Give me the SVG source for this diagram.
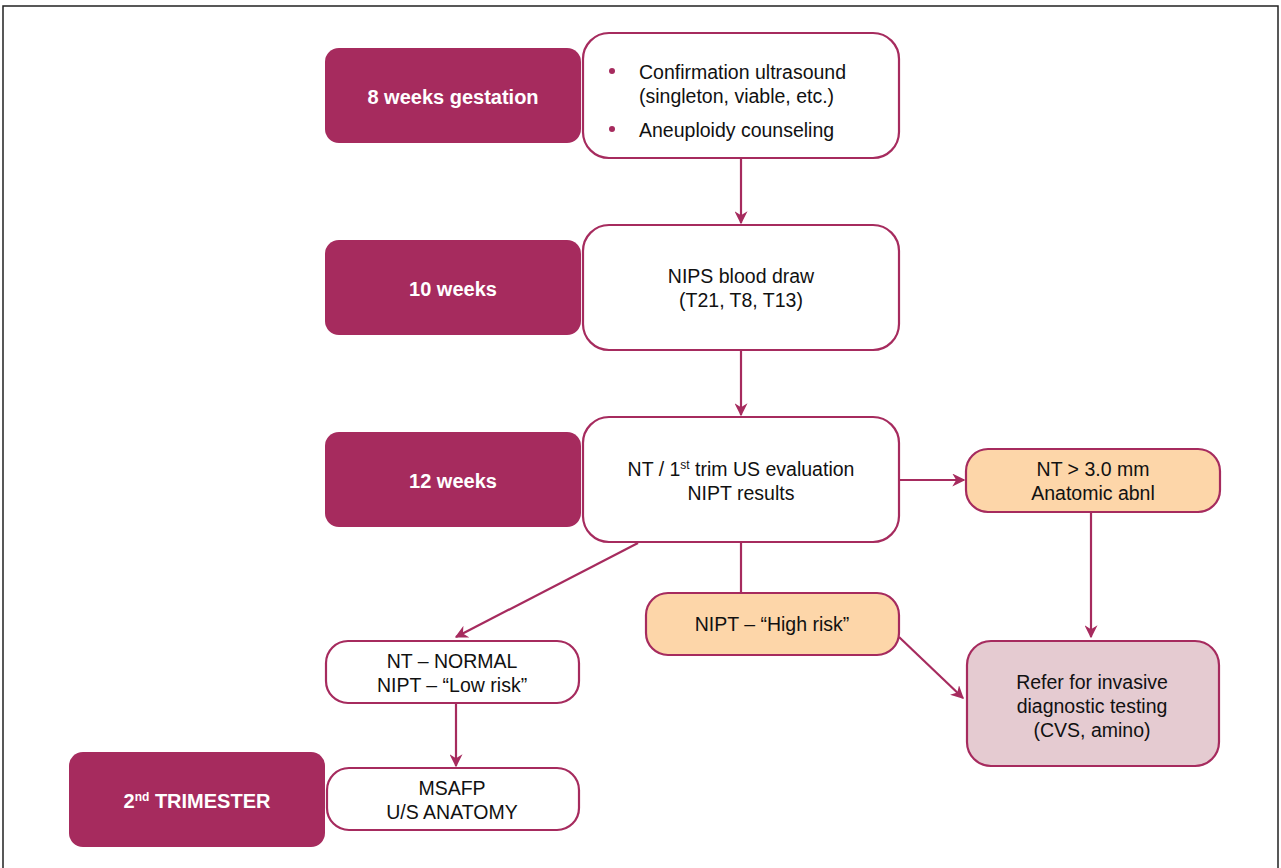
<svg xmlns="http://www.w3.org/2000/svg" width="1281" height="868" viewBox="0 0 1281 868">
<defs>
<style>
.dark{fill:#a62b5e;}
.wb{fill:#fff;stroke:#a62b5e;stroke-width:2.2;}
.ob{fill:#fdd6a9;stroke:#a62b5e;stroke-width:2.2;}
.pb{fill:#e5cbd1;stroke:#a62b5e;stroke-width:2.2;}
.lt{font-family:"Liberation Sans",Arial,sans-serif;font-weight:bold;font-size:20px;fill:#fff;text-anchor:middle;}
.t{font-family:"Liberation Sans",Arial,sans-serif;font-size:19.5px;fill:#111;text-anchor:middle;}
.tl{font-family:"Liberation Sans",Arial,sans-serif;font-size:19.5px;fill:#111;}
.c{stroke:#a62b5e;stroke-width:2.2;fill:none;}
</style>
<marker id="ah" viewBox="0 0 10 10" refX="9" refY="5" markerWidth="13" markerHeight="13" markerUnits="userSpaceOnUse" orient="auto"><path d="M0,0 L10,5 L0,10 L3,5 Z" fill="#a62b5e"/></marker>
</defs>
<rect width="1281" height="868" fill="#fff"/>
<path d="M3,868 V6 H1278 V868" fill="none" stroke="#222" stroke-width="1.5"/>

<g id="connectors">
<line class="c" x1="741" y1="158" x2="741" y2="223" marker-end="url(#ah)"/>
<line class="c" x1="741" y1="350" x2="741" y2="415" marker-end="url(#ah)"/>
<line class="c" x1="900" y1="480" x2="964" y2="480" marker-end="url(#ah)"/>
<line class="c" x1="1091" y1="512" x2="1091" y2="637" marker-end="url(#ah)"/>
<line class="c" x1="741" y1="542" x2="741" y2="593"/>
<line class="c" x1="899" y1="637" x2="963" y2="698" marker-end="url(#ah)"/>
<line class="c" x1="638" y1="543" x2="456" y2="637" marker-end="url(#ah)"/>
<line class="c" x1="456" y1="703" x2="456" y2="766" marker-end="url(#ah)"/>
</g>

<g id="n8w"><rect class="dark" x="325" y="48" width="256" height="95" rx="14"/><text class="lt" x="453" y="104">8 weeks gestation</text></g>
<g id="nconf"><rect class="wb" x="583" y="33" width="316" height="125" rx="26"/>
<circle cx="612" cy="71" r="3" fill="#a62b5e"/><circle cx="612" cy="129" r="3" fill="#a62b5e"/>
<text class="tl" x="639" y="79">Confirmation ultrasound</text>
<text class="tl" x="639" y="103">(singleton, viable, etc.)</text>
<text class="tl" x="639" y="137">Aneuploidy counseling</text></g>

<g id="n10w"><rect class="dark" x="325" y="240" width="256" height="95" rx="14"/><text class="lt" x="453" y="296">10 weeks</text></g>
<g id="nnips"><rect class="wb" x="583" y="225" width="316" height="125" rx="26"/>
<text class="t" x="741" y="283">NIPS blood draw</text><text class="t" x="741" y="307">(T21, T8, T13)</text></g>

<g id="n12w"><rect class="dark" x="325" y="432" width="256" height="95" rx="14"/><text class="lt" x="453" y="488">12 weeks</text></g>
<g id="nnt"><rect class="wb" x="583" y="417" width="316" height="125" rx="26"/>
<text class="t" x="741" y="476">NT / 1<tspan font-size="12" dy="-7">st</tspan><tspan dy="7"> trim US evaluation</tspan></text>
<text class="t" x="741" y="500">NIPT results</text></g>

<g id="nabnl"><rect class="ob" x="966" y="449" width="254" height="63" rx="22"/>
<text class="t" x="1093" y="476">NT &gt; 3.0 mm</text><text class="t" x="1093" y="500">Anatomic abnl</text></g>

<g id="nhigh"><rect class="ob" x="646" y="593" width="253" height="62" rx="22"/>
<text class="t" x="772" y="631">NIPT – “High risk”</text></g>

<g id="nrefer"><rect class="pb" x="967" y="641" width="252" height="125" rx="24"/>
<text class="t" x="1092" y="689">Refer for invasive</text><text class="t" x="1092" y="713">diagnostic testing</text><text class="t" x="1092" y="737">(CVS, amino)</text></g>

<g id="nlow"><rect class="wb" x="326" y="641" width="253" height="62" rx="22"/>
<text class="t" x="452" y="668">NT – NORMAL</text><text class="t" x="452" y="692">NIPT – “Low risk”</text></g>

<g id="n2t"><rect class="dark" x="69" y="752" width="256" height="95" rx="14"/>
<text class="lt" x="197" y="808">2<tspan font-size="12" dy="-7">nd</tspan><tspan dy="7"> TRIMESTER</tspan></text></g>
<g id="nmsafp"><rect class="wb" x="327" y="768" width="252" height="62" rx="22"/>
<text class="t" x="452" y="795">MSAFP</text><text class="t" x="452" y="819">U/S ANATOMY</text></g>
</svg>
